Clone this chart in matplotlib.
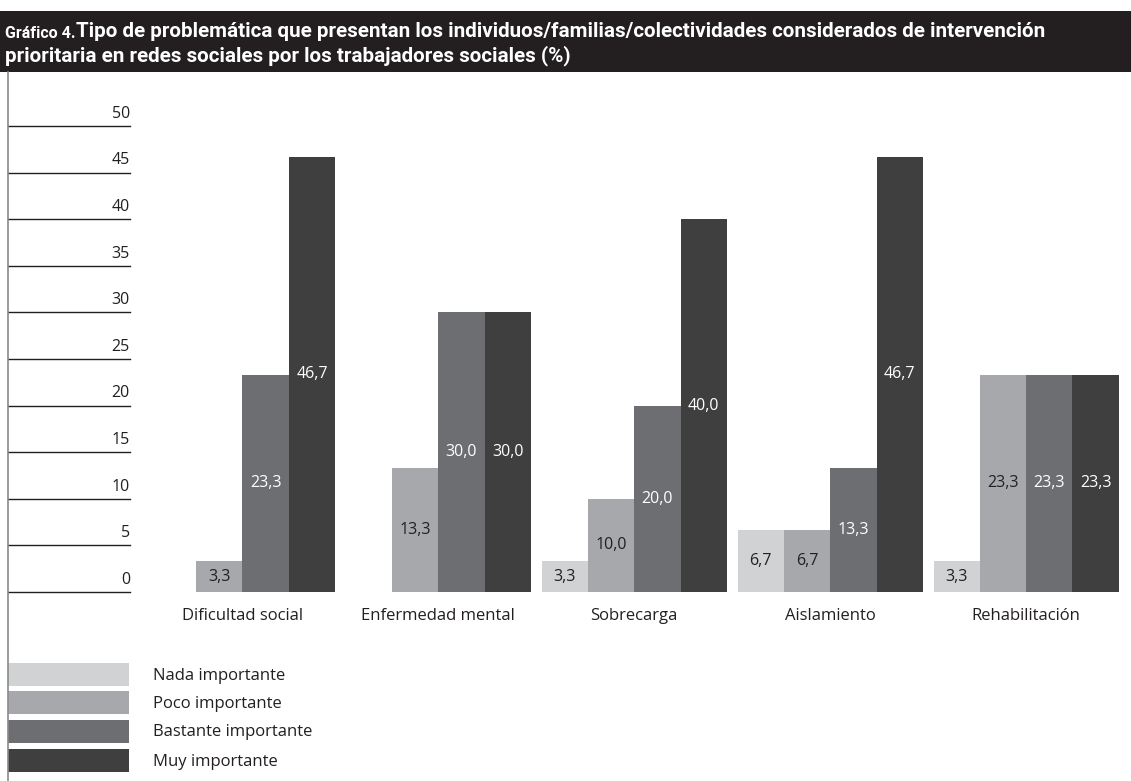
import matplotlib
matplotlib.use("Agg")
import matplotlib.pyplot as plt
from matplotlib.patches import Rectangle
from matplotlib.lines import Line2D
from matplotlib.text import Annotation
import numpy as np

categories = ["Dificultad social", "Enfermedad mental", "Sobrecarga", "Aislamiento", "Rehabilitación"]
series_names = ["Nada importante", "Poco importante", "Bastante importante", "Muy importante"]
nada = [0, 0, 3.3, 6.7, 3.3]
poco = [3.3, 13.3, 10.0, 6.7, 23.3]
bastante = [23.3, 30.0, 20.0, 13.3, 23.3]
muy = [46.7, 30.0, 40.0, 46.7, 23.3]
yticks = [0, 5, 10, 15, 20, 25, 30, 35, 40, 45, 50]

series = [nada, poco, bastante, muy]
colors = ["#d1d2d4", "#a7a8ab", "#6d6e71", "#3f3f40"]
label_colors = ["#231f20", "#231f20", "white", "white"]

W, H = 1131, 781
fig = plt.figure(figsize=(W / 100, H / 100), dpi=100)

def fx(px):
    return px / W

def fy(py):
    return 1 - py / H

body_font = ["Open Sans", "DejaVu Sans"]
title_font = ["Roboto", "DejaVu Sans"]

# Title bar
fig.patches.append(Rectangle((0, fy(72)), 1, fy(11) - fy(72), transform=fig.transFigure,
                             facecolor="#231f20", edgecolor="none", zorder=0))
t1 = fig.text(fx(5), fy(38), "Gráfico 4.", color="white", fontsize=11.5, fontweight="bold",
              family=title_font, va="baseline", ha="left")
a = Annotation("Tipo de problemática que presentan los individuos/familias/colectividades considerados de intervención",
               xy=(1, 0), xycoords=t1, xytext=(0, 0), textcoords="offset points",
               color="white", fontsize=14, fontweight="bold", family=title_font,
               va="bottom", ha="left")
fig.add_artist(a)
t2 = fig.text(fx(5), fy(61), "prioritaria en redes sociales por los trabajadores sociales (%)",
              color="white", fontsize=14, fontweight="bold", family=title_font,
              va="baseline", ha="left")

# fit title line 1 to reference width (ends near px 1048)
fig.canvas.draw()
r = fig.canvas.get_renderer()
e = a.get_window_extent(r)
target = 1048
scale = (target - e.x0) / (e.x1 - e.x0)
scale = min(scale, 1.08)
a.set_fontsize(14 * scale)
t2.set_fontsize(14 * scale)

# Left vertical rule
fig.add_artist(Line2D([fx(7.5), fx(7.5)], [fy(72), fy(781)], transform=fig.transFigure,
                      color="#8a8a8a", lw=1.2))

# Main axes: x from px 8 to 1131, y from px 126 (50) to 592 (0)
ax_left, ax_right = 8, 1131
ax_top, ax_bot = 126, 592
ax = fig.add_axes([fx(ax_left), fy(ax_bot), fx(ax_right - ax_left), fy(ax_top) - fy(ax_bot)])
gc0, gstep = 242.5, 195.9
xmin = (ax_left - gc0) / gstep
xmax = (ax_right - gc0) / gstep
ax.set_xlim(xmin, xmax)
ax.set_ylim(0, 50)
ax.axis("off")

bw = 46.3 / gstep
x = np.arange(len(categories))
for k, (vals, col, lc) in enumerate(zip(series, colors, label_colors)):
    pos = x + (k - 1.5) * bw
    ax.bar(pos, vals, width=bw, color=col, edgecolor="none", zorder=2)
    for xp, v in zip(pos, vals):
        if v > 0:
            ax.text(xp, v / 2, f"{v:.1f}".replace(".", ","), ha="center", va="center",
                    color=lc, fontsize=11.5, family=body_font, zorder=3)

# y tick lines and labels
tr = ax.get_yaxis_transform()
line_end = (130 - ax_left) / (ax_right - ax_left)
for yv in yticks:
    ax.plot([0, line_end], [yv, yv], transform=tr, color="#231f20", lw=1.0, clip_on=False)
    ax.annotate(str(yv), xy=(line_end, yv), xycoords=tr, xytext=(0, 3), textcoords="offset points",
                ha="right", va="bottom", fontsize=11.5, family=body_font, color="#231f20",
                annotation_clip=False)

# category labels
for xi, c in zip(x, categories):
    ax.annotate(c, xy=(xi, 0), xycoords="data", xytext=(0, -17), textcoords="offset points",
                ha="center", va="center", fontsize=12, family=body_font, color="#231f20",
                annotation_clip=False)

# Legend
leg_tops = [663, 691, 720, 749]
for top, col, name in zip(leg_tops, colors, series_names):
    fig.patches.append(Rectangle((fx(8), fy(top + 22.5)), fx(121), fy(top) - fy(top + 22.5),
                                 transform=fig.transFigure, facecolor=col, edgecolor="none"))
    fig.text(fx(153), fy(top + 12.5), name, ha="left", va="center", fontsize=12,
             family=body_font, color="#231f20")

fig.savefig("out.png", dpi=100)
